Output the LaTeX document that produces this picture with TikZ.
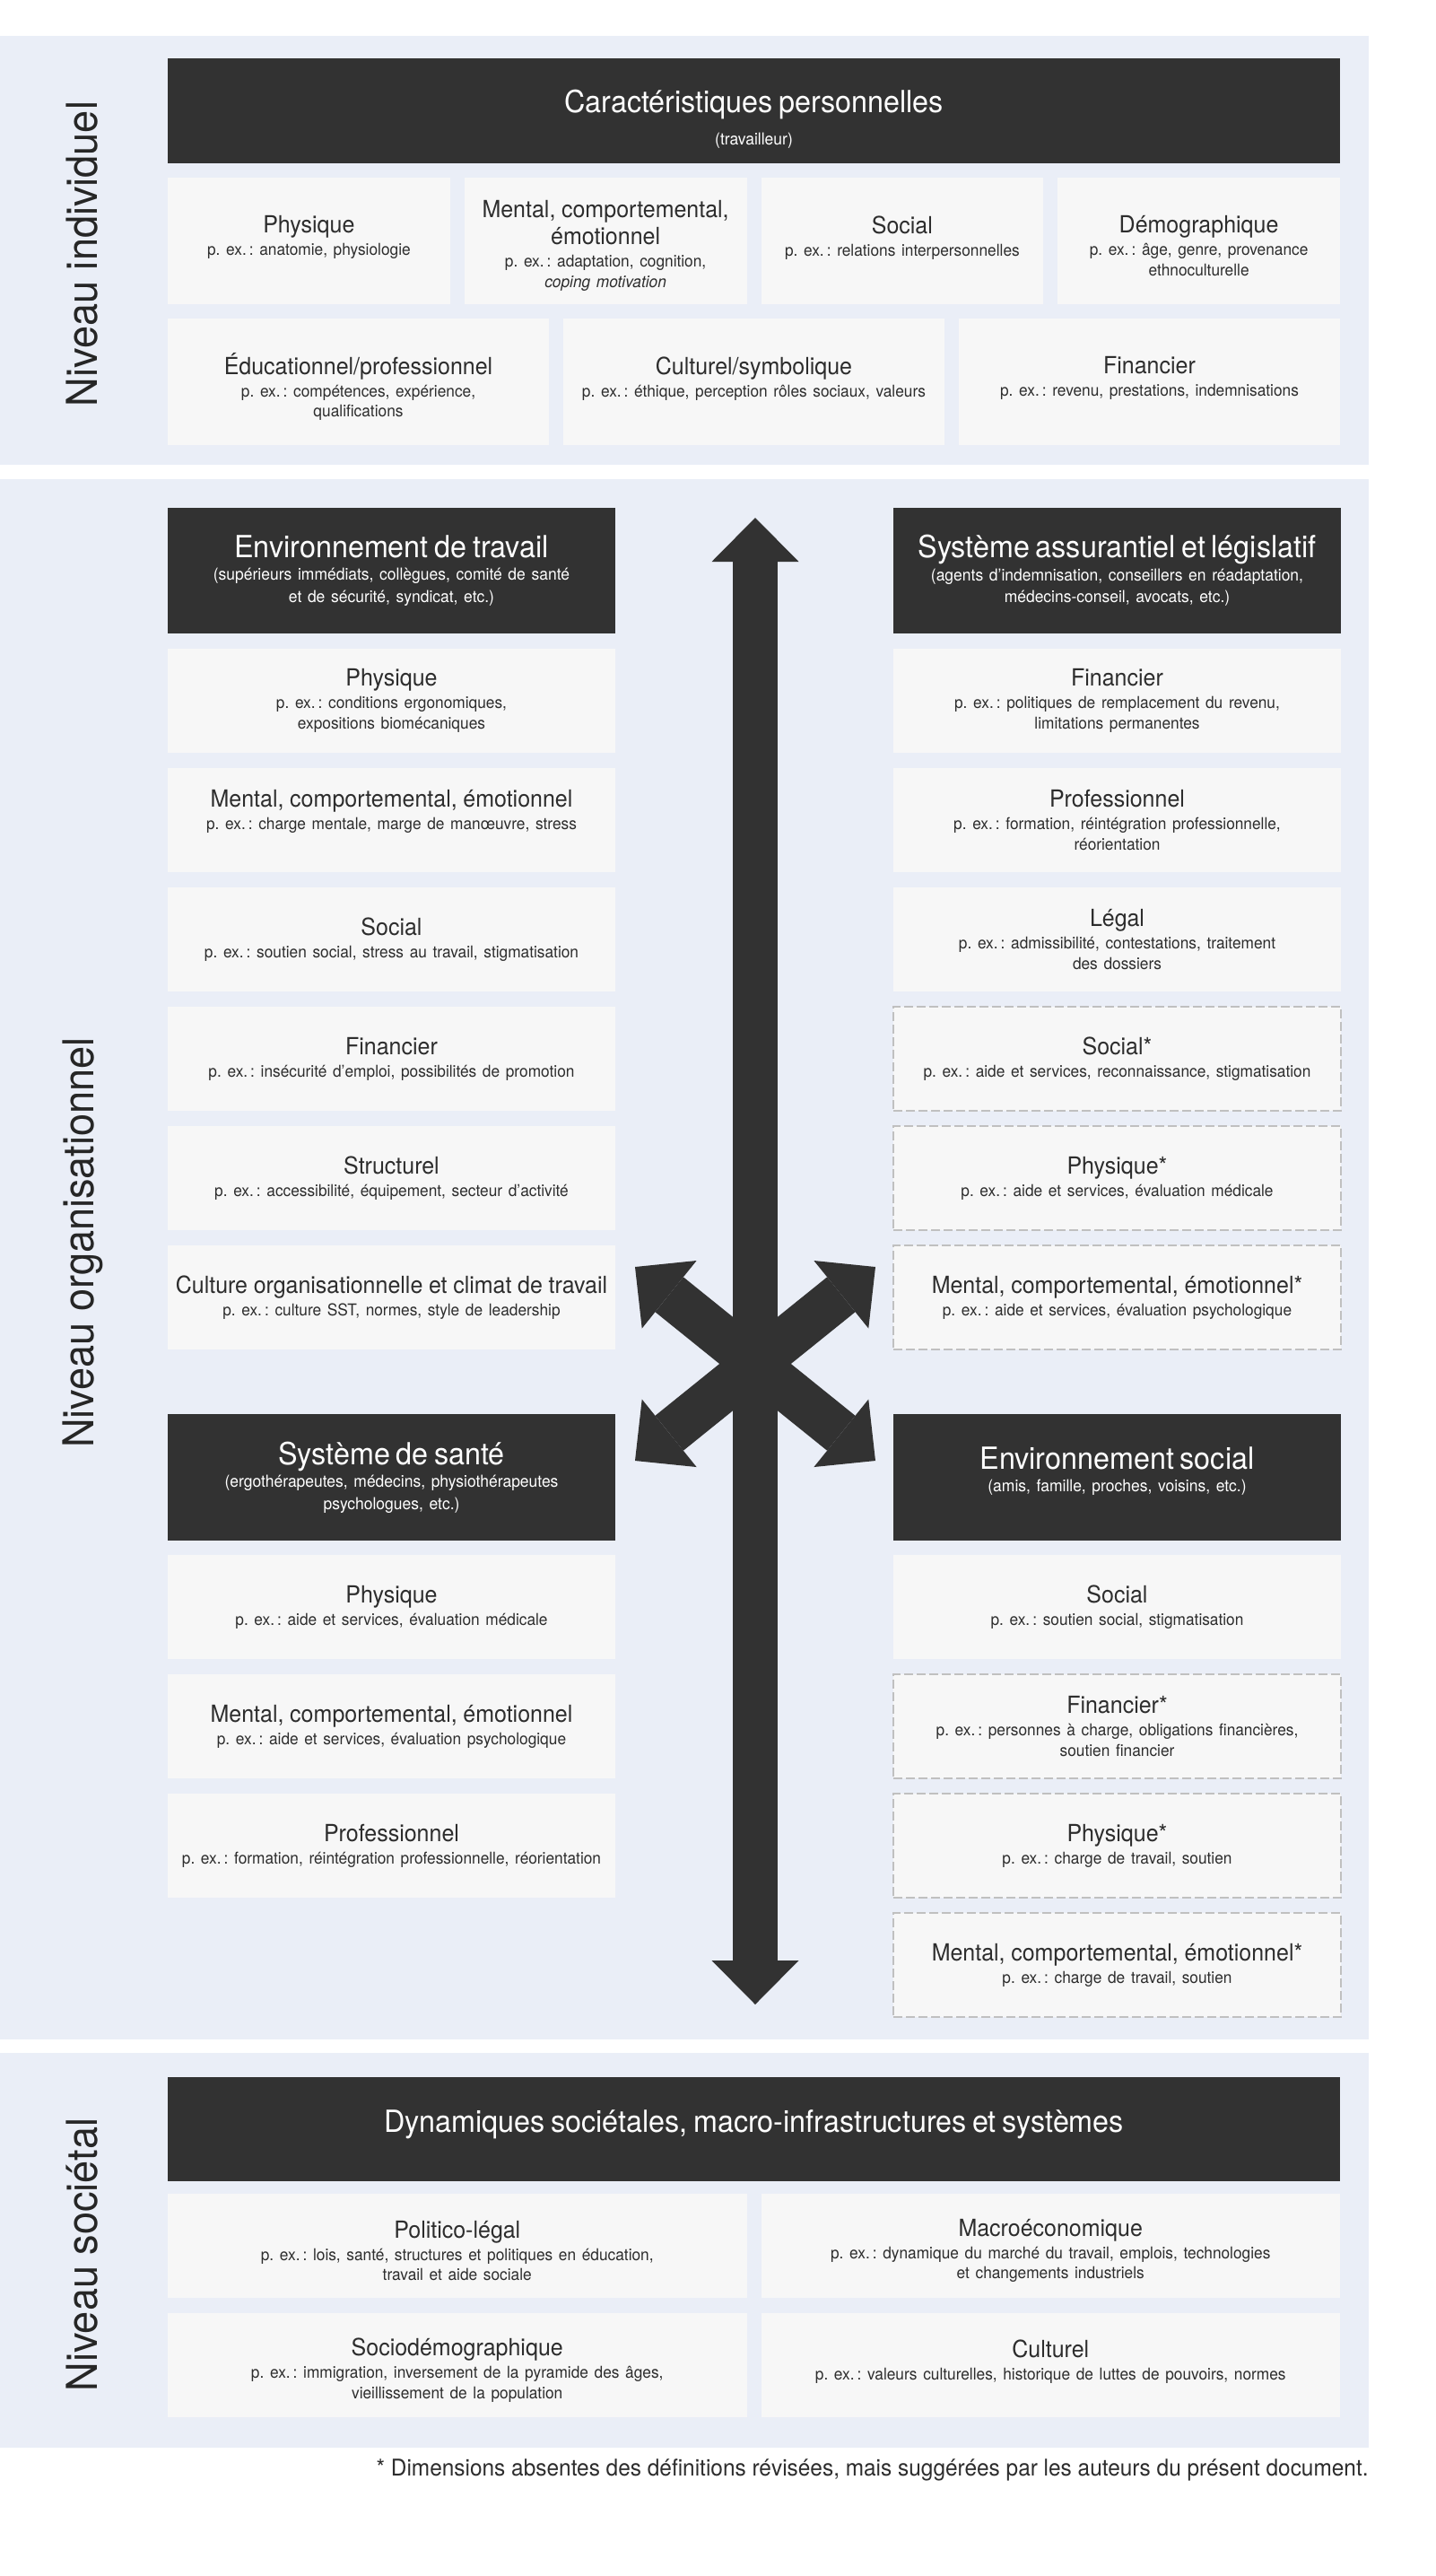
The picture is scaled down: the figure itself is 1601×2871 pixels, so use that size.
\documentclass[tikz,border=0pt]{standalone}
\usepackage{fontspec}
\setmainfont{TeX Gyre Heros}[FakeStretch=0.95]
\usetikzlibrary{arrows.meta}

\definecolor{panelbg}{RGB}{234,238,247}
\definecolor{headgray}{RGB}{50,50,50}
\definecolor{dimfill}{RGB}{247,247,247}
\definecolor{dashgray}{RGB}{192,192,192}
\definecolor{inkgray}{RGB}{45,45,45}

\setlength{\parindent}{0pt}
\frenchspacing
\newcommand{\dimtitle}[1]{{\fontsize{13.15pt}{15pt}\selectfont #1\par}}
\newcommand{\dimex}[1]{\vspace{1.25pt}{\fontsize{9.1pt}{11.25pt}\selectfont #1\par}}
\newcommand{\headtitle}[1]{{\fontsize{17pt}{20pt}\selectfont #1\par}}
\newcommand{\headsub}[2][0.5pt]{\vspace{#1}{\fontsize{9.2pt}{12.25pt}\selectfont #2\par}}

\begin{document}
\begin{tikzpicture}
  [x=0.5pt, y=-0.5pt,
   panel/.style={fill=panelbg},
   headbox/.style={fill=headgray, text=white, inner sep=0pt, align=center,
     minimum width=249.5pt, text width=249pt, minimum height=70pt},
   dimbox/.style={fill=dimfill, text=inkgray, inner sep=0pt, align=center,
     minimum width=249.5pt, text width=249pt, minimum height=58pt},
   dashbox/.style={dimbox, draw=dashgray, line width=0.75pt, dash pattern=on 5pt off 2pt},
   indbox/.style={dimbox, minimum width=157.4pt, text width=156pt, minimum height=70.5pt,
     execute at end node={\vspace{-5.5pt}}},
   indwide/.style={indbox, minimum width=212.5pt, text width=211pt},
   socbox/.style={dimbox, minimum width=322.75pt, text width=321pt,
     execute at end node={\vspace{-5.5pt}}},
   fullhead/.style={headbox, minimum width=653.5pt, text width=652pt, minimum height=58pt},
   level/.style={rotate=90, text=black!85, inner sep=0pt,
     font=\fontsize{23.75pt}{28pt}\selectfont},
   bigtip/.tip={Triangle[width=48.5pt, length=24.5pt, line width=0pt]},
   bigarrow/.style={draw=headgray, line width=25pt, bigtip-bigtip}]

  \useasboundingbox (0,0) rectangle (1601,2871);

  % bands
  \fill[panel] (0,40) rectangle (1526,518);
  \fill[panel] (0,534) rectangle (1526,2273);
  \fill[panel] (0,2288) rectangle (1526,2728);

  \node[level] (lvl-ind) at (92,283) {Niveau individuel};
  \node[level] (lvl-org) at (92,1385) {Niveau organisationnel};
  \node[level] (lvl-soc) at (92,2513) {Niveau sociétal};

  % individuel
  \node[fullhead, minimum height=58.5pt] (ind-head) at (840.5,123.5)
    {\headtitle{Caractéristiques personnelles}\headsub[5.5pt]{(travailleur)}\vspace{-9pt}};
  \node[indbox] (ind-phys) at (344.4,268.5)
    {\dimtitle{Physique}\dimex{p. ex.\,: anatomie, physiologie\\\mbox{}}};
  \node[indbox] (ind-ment) at (675.1,268.5)
    {\dimtitle{Mental, comportemental,\\émotionnel}\dimex{p. ex.\,: adaptation, cognition,\\\textit{coping motivation}}};
  \node[indbox] (ind-soc) at (1005.9,268.5)
    {\dimtitle{Social}\dimex{p. ex.\,: relations interpersonnelles\\\mbox{}}};
  \node[indbox] (ind-demo) at (1336.6,268.5)
    {\dimtitle{Démographique}\dimex{p. ex.\,: âge, genre, provenance\\ethnoculturelle}};
  \node[indwide] (ind-edu) at (399.5,425.5)
    {\dimtitle{Éducationnel/professionnel}\dimex{p. ex.\,: compétences, expérience,\\qualifications}};
  \node[indwide] (ind-cult) at (840.5,425.5)
    {\dimtitle{Culturel/symbolique}\dimex{p. ex.\,: éthique, perception rôles sociaux, valeurs\\\mbox{}}};
  \node[indwide] (ind-fin) at (1281.5,425.5)
    {\dimtitle{Financier}\dimex{p. ex.\,: revenu, prestations, indemnisations\\\mbox{}}};

  % organisationnel, colonne gauche
  \node[headbox] (trav-head) at (436.5,636)
    {\headtitle{Environnement de travail}\headsub{(supérieurs immédiats, collègues, comité de santé\\et de sécurité, syndicat, etc.)}};
  \node[dimbox] (trav-phys) at (436.5,781)
    {\dimtitle{Physique}\dimex{p. ex.\,: conditions ergonomiques,\\expositions biomécaniques}};
  \node[dimbox] (trav-ment) at (436.5,914)
    {\dimtitle{Mental, comportemental, émotionnel}\dimex{p. ex.\,: charge mentale, marge de manœuvre, stress\\\mbox{}}};
  \node[dimbox] (trav-soc) at (436.5,1047)
    {\dimtitle{Social}\dimex{p. ex.\,: soutien social, stress au travail, stigmatisation}};
  \node[dimbox] (trav-fin) at (436.5,1180)
    {\dimtitle{Financier}\dimex{p. ex.\,: insécurité d’emploi, possibilités de promotion}};
  \node[dimbox] (trav-struct) at (436.5,1313)
    {\dimtitle{Structurel}\dimex{p. ex.\,: accessibilité, équipement, secteur d’activité}};
  \node[dimbox] (trav-cult) at (436.5,1446)
    {\dimtitle{Culture organisationnelle et climat de travail}\dimex{p. ex.\,: culture SST, normes, style de leadership}};

  \node[headbox, minimum height=70.5pt] (sante-head) at (436.5,1646.5)
    {\headtitle{Système de santé}\headsub{(ergothérapeutes, médecins, physiothérapeutes\\psychologues, etc.)}};
  \node[dimbox] (sante-phys) at (436.5,1791)
    {\dimtitle{Physique}\dimex{p. ex.\,: aide et services, évaluation médicale}};
  \node[dimbox] (sante-ment) at (436.5,1924)
    {\dimtitle{Mental, comportemental, émotionnel}\dimex{p. ex.\,: aide et services, évaluation psychologique}};
  \node[dimbox] (sante-prof) at (436.5,2057)
    {\dimtitle{Professionnel}\dimex{p. ex.\,: formation, réintégration professionnelle, réorientation}};

  % organisationnel, colonne droite
  \node[headbox] (assur-head) at (1245.5,636)
    {\headtitle{Système assurantiel et législatif}\headsub{(agents d’indemnisation, conseillers en réadaptation,\\médecins-conseil, avocats, etc.)}};
  \node[dimbox] (assur-fin) at (1245.5,781)
    {\dimtitle{Financier}\dimex{p. ex.\,: politiques de remplacement du revenu,\\limitations permanentes}};
  \node[dimbox] (assur-prof) at (1245.5,914)
    {\dimtitle{Professionnel}\dimex{p. ex.\,: formation, réintégration professionnelle,\\réorientation}};
  \node[dimbox] (assur-leg) at (1245.5,1047)
    {\dimtitle{Légal}\dimex{p. ex.\,: admissibilité, contestations, traitement\\des dossiers}};
  \node[dashbox] (assur-soc) at (1245.5,1180)
    {\dimtitle{Social*}\dimex{p. ex.\,: aide et services, reconnaissance, stigmatisation}};
  \node[dashbox] (assur-phys) at (1245.5,1313)
    {\dimtitle{Physique*}\dimex{p. ex.\,: aide et services, évaluation médicale}};
  \node[dashbox] (assur-ment) at (1245.5,1446)
    {\dimtitle{Mental, comportemental, émotionnel*}\dimex{p. ex.\,: aide et services, évaluation psychologique}};

  \node[headbox, minimum height=70.5pt] (envsoc-head) at (1245.5,1646.5)
    {\headtitle{Environnement social}\headsub{(amis, famille, proches, voisins, etc.)}\vspace{7pt}};
  \node[dimbox] (envsoc-soc) at (1245.5,1791)
    {\dimtitle{Social}\dimex{p. ex.\,: soutien social, stigmatisation}};
  \node[dashbox] (envsoc-fin) at (1245.5,1924)
    {\dimtitle{Financier*}\dimex{p. ex.\,: personnes à charge, obligations financières,\\soutien financier}};
  \node[dashbox] (envsoc-phys) at (1245.5,2057)
    {\dimtitle{Physique*}\dimex{p. ex.\,: charge de travail, soutien}};
  \node[dashbox] (envsoc-ment) at (1245.5,2190)
    {\dimtitle{Mental, comportemental, émotionnel*}\dimex{p. ex.\,: charge de travail, soutien}};

  % fleches
  \coordinate (vtop) at (842,577);
  \coordinate (vbot) at (842,2234);
  \coordinate (xul) at (708,1412);
  \coordinate (xur) at (976,1412);
  \coordinate (xll) at (708,1628);
  \coordinate (xlr) at (976,1628);
  \draw[bigarrow] (vtop) -- (vbot);
  \draw[bigarrow] (xul) -- (xlr);
  \draw[bigarrow] (xur) -- (xll);

  % societal
  \node[fullhead] (soc-head) at (840.5,2373)
    {\headtitle{Dynamiques sociétales, macro-infrastructures et systèmes}\vspace{5.5pt}};
  \node[socbox] (soc-pol) at (509.75,2503)
    {\dimtitle{Politico-légal}\dimex{p. ex.\,: lois, santé, structures et politiques en éducation,\\travail et aide sociale}};
  \node[socbox] (soc-macro) at (1171.25,2503)
    {\dimtitle{Macroéconomique}\dimex{p. ex.\,: dynamique du marché du travail, emplois, technologies\\et changements industriels}};
  \node[socbox] (soc-demo) at (509.75,2636)
    {\dimtitle{Sociodémographique}\dimex{p. ex.\,: immigration, inversement de la pyramide des âges,\\vieillissement de la population}};
  \node[socbox] (soc-cult) at (1171.25,2636)
    {\dimtitle{Culturel}\dimex{p. ex.\,: valeurs culturelles, historique de luttes de pouvoirs, normes\\\mbox{}}};

  \node[anchor=east, inner sep=0pt, text=inkgray, font=\fontsize{12.85pt}{15pt}\selectfont] (note) at (1526,2753)
    {* Dimensions absentes des définitions révisées, mais suggérées par les auteurs du présent document.};
\end{tikzpicture}
\end{document}
